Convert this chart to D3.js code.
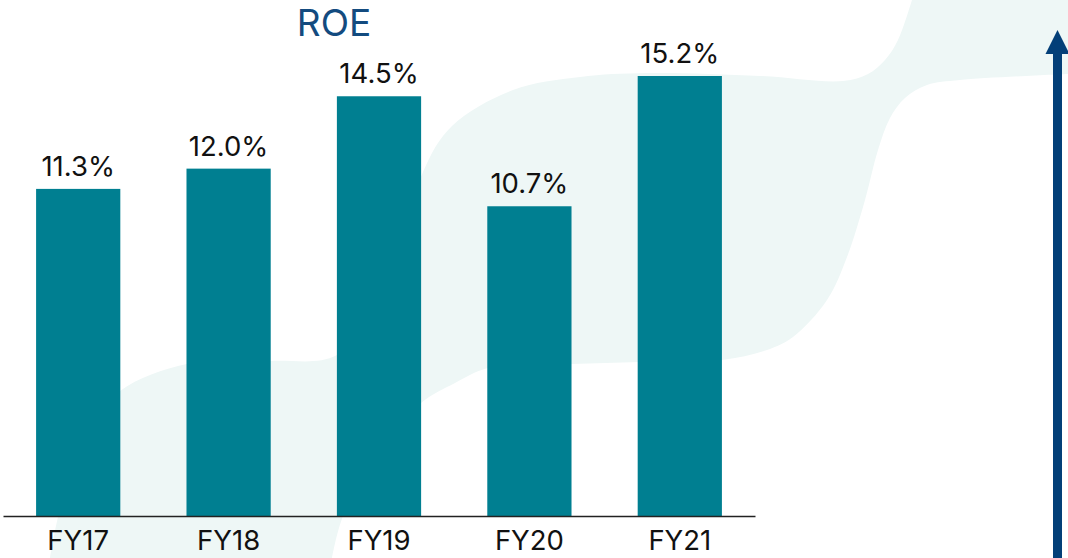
<!DOCTYPE html>
<html>
<head>
<meta charset="utf-8">
<script src="https://cdn.jsdelivr.net/npm/d3@7"></script>
<style>
  html, body { margin: 0; padding: 0; background: #fff; }
  svg { display: block; }
  text { font-family: "Inter", "Noto Sans", sans-serif; }
</style>
</head>
<body>
<svg id="chart" width="1068" height="558"></svg>
<script>
const categories = ["FY17", "FY18", "FY19", "FY20", "FY21"];
const roeValues = [11.3, 12.0, 14.5, 10.7, 15.2];
const chartTitle = "ROE";

const width = 1068;
const height = 558;
const baseY = 516;

const svg = d3.select("#chart");

// light background wave behind the bars
const upperEdge = [
  [50, 558], [58, 517], [80, 440], [120, 391], [187, 364], [270, 361],
  [337, 355], [392, 285], [423, 172], [452, 126], [513, 90], [580, 77],
  [647, 73], [760, 76], [843, 81], [868, 74], [885, 60], [898, 40], [912, 0]
];
const lowerEdge = [
  [1068, 74], [960, 80], [927, 85], [905, 98], [890, 118], [878, 150],
  [865, 200], [847, 257], [827, 300], [793, 337], [767, 350], [722, 360],
  [640, 362], [571, 364], [488, 368], [455, 383], [421, 403], [380, 450],
  [343, 516], [332, 558]
];
const waveLine = d3.line().curve(d3.curveCatmullRom.alpha(0.5));
svg.append("path")
  .attr("d", waveLine(upperEdge) + "L" + width + ",0" + waveLine(lowerEdge).replace(/^M/, "L") + "Z")
  .attr("fill", "#eef7f6");

const x = d3.scaleBand()
  .domain(categories)
  .range([3, 755])
  .paddingInner(0.44)
  .paddingOuter(0.22);

const y = d3.scaleLinear()
  .domain([0, 15.2])
  .range([baseY, 76]);

const data = categories.map((c, i) => ({ cat: c, value: roeValues[i] }));

svg.selectAll(".bar")
  .data(data)
  .enter()
  .append("rect")
  .attr("class", "bar")
  .attr("x", d => x(d.cat))
  .attr("y", d => y(d.value))
  .attr("width", x.bandwidth())
  .attr("height", d => y(0) - y(d.value))
  .attr("fill", "#007f91");

svg.selectAll(".value-label")
  .data(data)
  .enter()
  .append("text")
  .attr("class", "value-label")
  .attr("x", d => x(d.cat) + x.bandwidth() / 2)
  .attr("y", d => y(d.value) - 13)
  .attr("text-anchor", "middle")
  .attr("font-size", 27.5)
  .attr("fill", "#111")
  .text(d => d3.format(".1f")(d.value) + "%");

// x axis: baseline and category labels
const xAxis = svg.append("g")
  .attr("transform", "translate(0," + baseY + ")")
  .call(d3.axisBottom(x).tickSize(0).tickPadding(14));
xAxis.select(".domain").attr("stroke", "#222").attr("stroke-width", 1.6);
xAxis.selectAll(".tick text")
  .attr("font-size", 27.5)
  .attr("font-family", "Inter, sans-serif")
  .attr("fill", "#111");

svg.append("text")
  .attr("x", 334)
  .attr("y", 36)
  .attr("text-anchor", "middle")
  .attr("font-size", 37)
  .attr("fill", "#134b7f")
  .text(chartTitle);

// arrow on the right
const arrowX = 1057.5;
svg.append("rect")
  .attr("x", arrowX - 4.5)
  .attr("y", 50)
  .attr("width", 9)
  .attr("height", height - 50)
  .attr("fill", "#033f78");
svg.append("path")
  .attr("d", d3.line()([[arrowX, 30], [arrowX + 12, 54], [arrowX - 12, 54]]) + "Z")
  .attr("fill", "#033f78");
</script>
</body>
</html>
